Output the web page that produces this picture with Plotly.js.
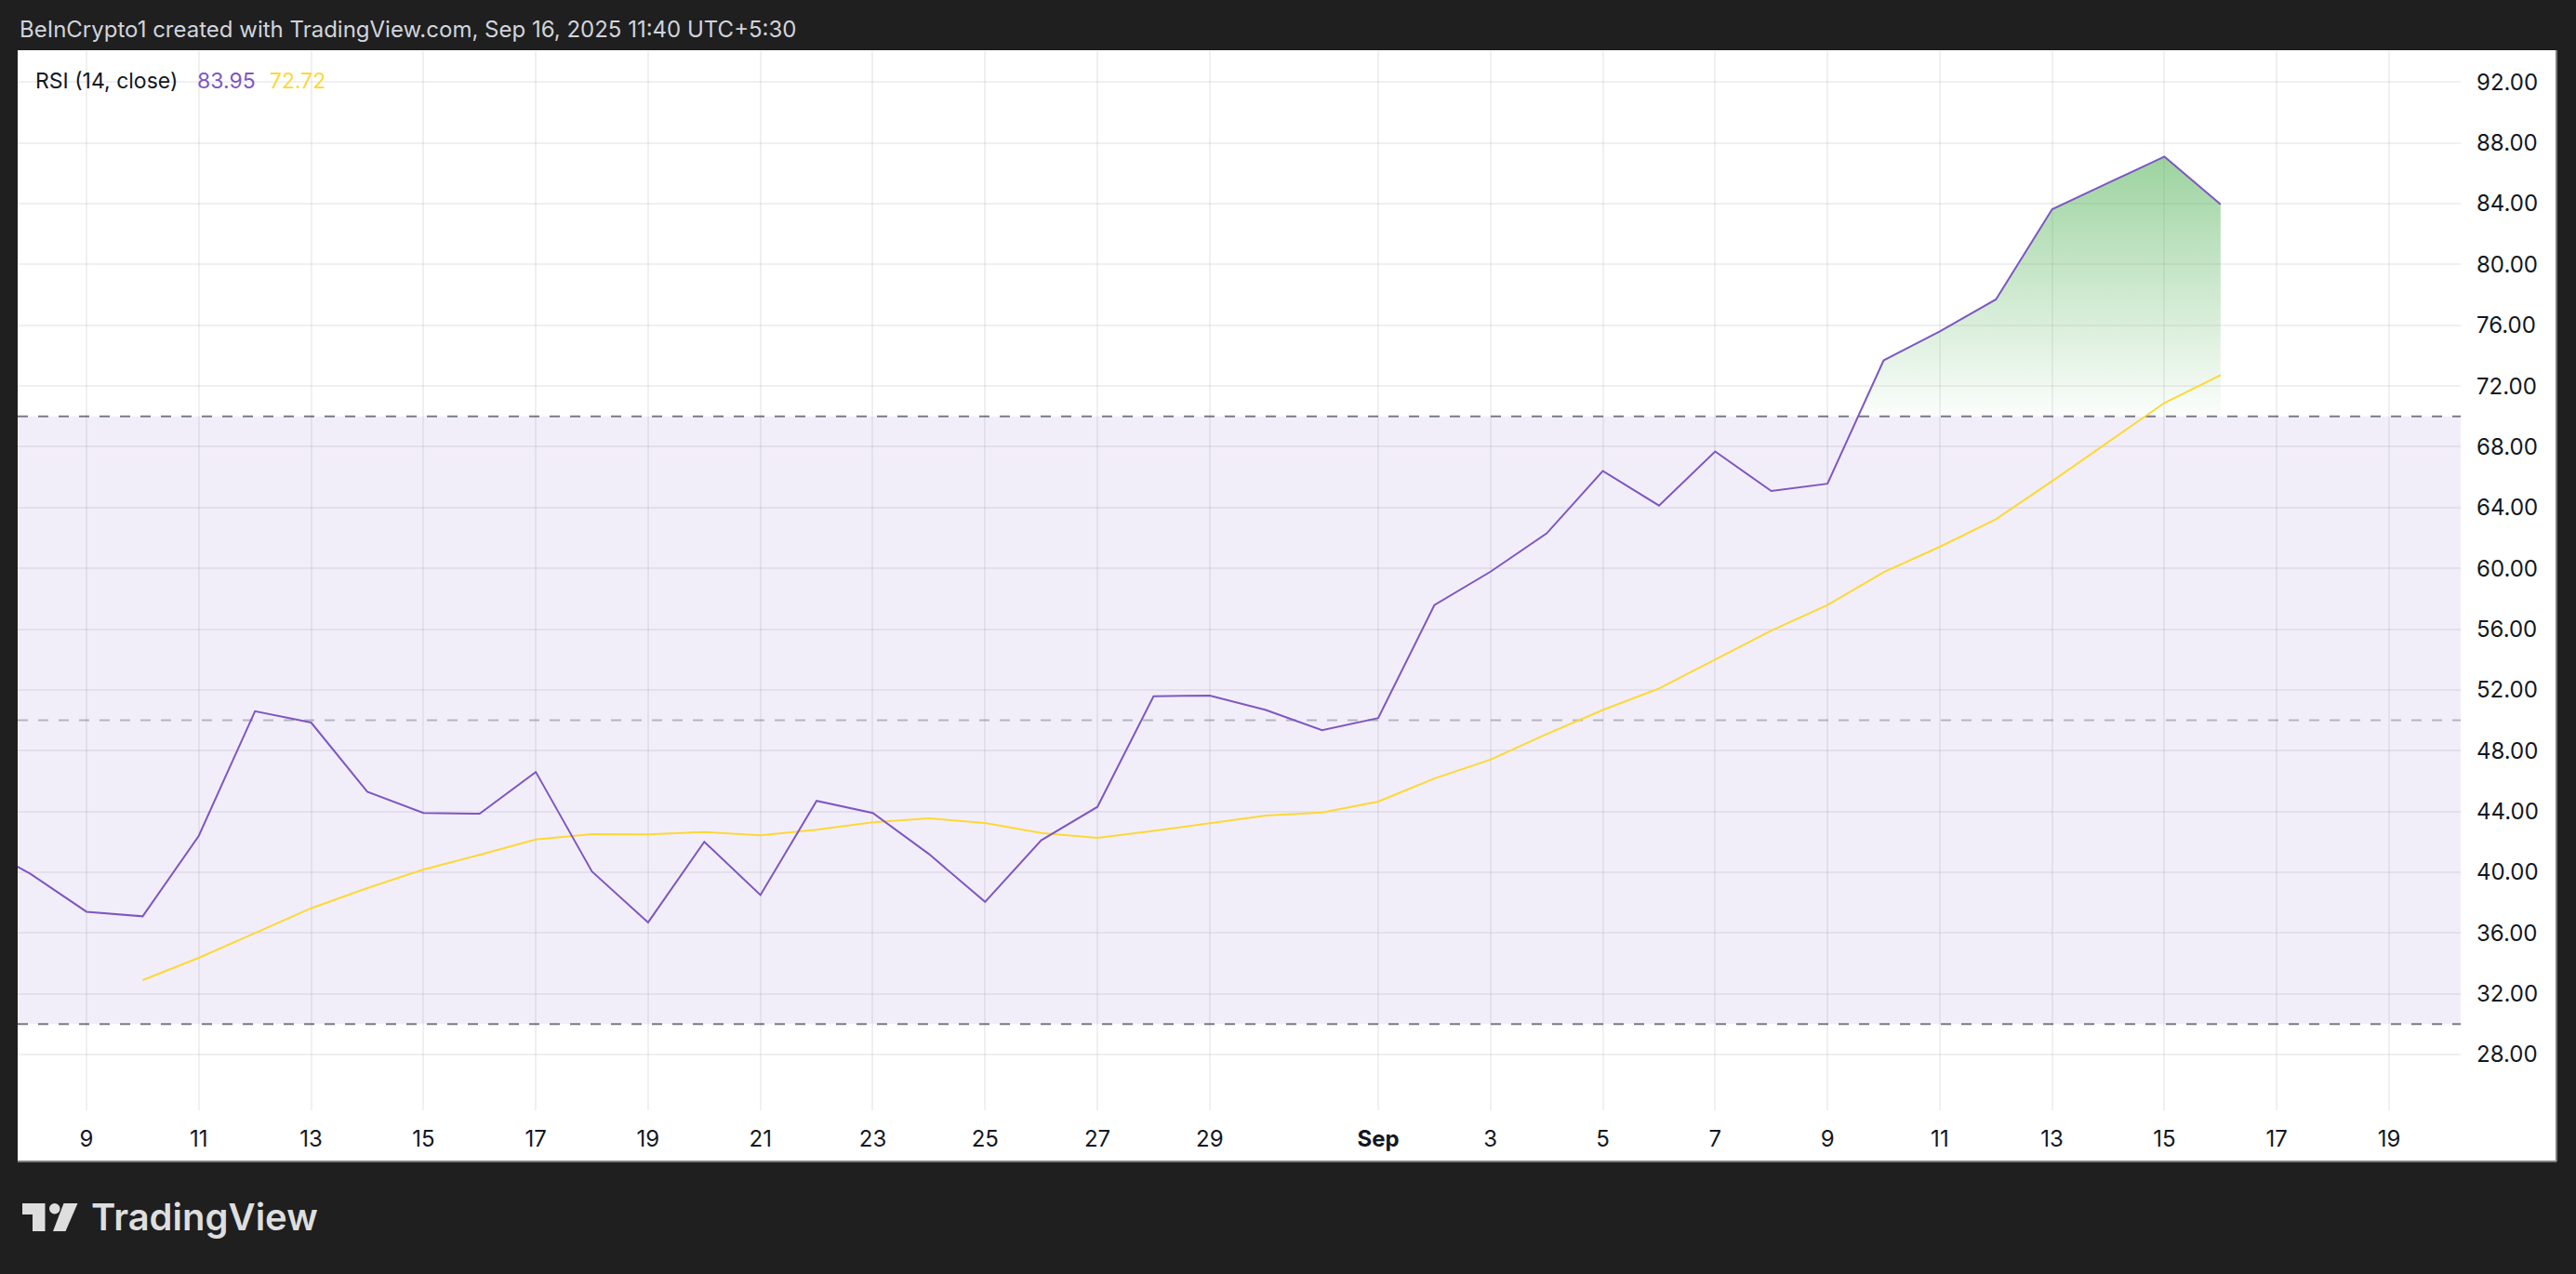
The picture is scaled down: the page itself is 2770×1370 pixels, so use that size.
<!DOCTYPE html>
<html>
<head>
<meta charset="utf-8">
<script src="https://cdn.plot.ly/plotly-3.0.1.min.js"></script>
<style>
html,body{margin:0;padding:0;background:#1f1f1f;overflow:hidden}
#chart{width:2770px;height:1370px}
</style>
</head>
<body>
<div id="chart"></div>
<script>
// ---------- data ----------
const rsiDates = [
 '2025-08-07','2025-08-08','2025-08-09','2025-08-10','2025-08-11','2025-08-12','2025-08-13','2025-08-14',
 '2025-08-15','2025-08-16','2025-08-17','2025-08-18','2025-08-19','2025-08-20','2025-08-21','2025-08-22',
 '2025-08-23','2025-08-24','2025-08-25','2025-08-26','2025-08-27','2025-08-28','2025-08-29','2025-08-30',
 '2025-08-31','2025-09-01','2025-09-02','2025-09-03','2025-09-04','2025-09-05','2025-09-06','2025-09-07',
 '2025-09-08','2025-09-09','2025-09-10','2025-09-11','2025-09-12','2025-09-13','2025-09-14','2025-09-15',
 '2025-09-16'
];
const rsiValues = [
 41.9, 39.9, 37.4, 37.1, 42.4, 50.6, 49.85, 45.3,
 43.9, 43.85, 46.6, 40.05, 36.7, 42.0, 38.5, 44.7,
 43.9, 41.2, 38.05, 42.1, 44.3, 51.58, 51.63, 50.68,
 49.35, 50.15, 57.58, 59.78, 62.3, 66.41, 64.13, 67.69,
 65.09, 65.57, 73.69, 75.6, 77.7, 83.63, 85.37, 87.1,
 83.95
];
const maDates = [
 '2025-08-10','2025-08-11','2025-08-12','2025-08-13','2025-08-14','2025-08-15','2025-08-16','2025-08-17',
 '2025-08-18','2025-08-19','2025-08-20','2025-08-21','2025-08-22','2025-08-23','2025-08-24','2025-08-25',
 '2025-08-26','2025-08-27','2025-08-28','2025-08-29','2025-08-30','2025-08-31','2025-09-01','2025-09-02',
 '2025-09-03','2025-09-04','2025-09-05','2025-09-06','2025-09-07','2025-09-08','2025-09-09','2025-09-10',
 '2025-09-11','2025-09-12','2025-09-13','2025-09-14','2025-09-15','2025-09-16'
];
const maValues = [
 32.9, 34.37, 36.0, 37.63, 38.96, 40.18, 41.14, 42.16,
 42.51, 42.49, 42.65, 42.43, 42.8, 43.29, 43.55, 43.24,
 42.59, 42.26, 42.72, 43.24, 43.73, 43.93, 44.65, 46.17,
 47.41, 49.09, 50.68, 52.09, 54.0, 55.9, 57.58, 59.75,
 61.42, 63.23, 65.74, 68.3, 70.89, 72.72
];
const tickDates = [
 '2025-08-09','2025-08-11','2025-08-13','2025-08-15','2025-08-17','2025-08-19','2025-08-21','2025-08-23',
 '2025-08-25','2025-08-27','2025-08-29','2025-09-01','2025-09-03','2025-09-05','2025-09-07','2025-09-09',
 '2025-09-11','2025-09-13','2025-09-15','2025-09-17','2025-09-19'
];
const tickLabels = [
 '9','11','13','15','17','19','21','23','25','27','29','<b>Sep</b>','3','5','7','9','11','13','15','17','19'
];
const yTickValues = [28,32,36,40,44,48,52,56,60,64,68,72,76,80,84,88,92];
const upperBand = 70, middleBand = 50, lowerBand = 30;
const legendLabel = 'RSI (14, close)';
const headerText = 'BeInCrypto1 created with TradingView.com, Sep 16, 2025 11:40 UTC+5:30';
const brandText = 'TradingView';

// ---------- layout geometry ----------
const W = 2770, H = 1370, L = 19, R = 124, T = 55, B = 176;
const pw = W - L - R, ph = H - T - B;
const px = x => (x - L) / pw;
const py = y => (H - B - y) / ph;

const PURPLE = '#7e57c2', YELLOW = '#fdd835';
const FONT = 'Inter, "Noto Sans", "DejaVu Sans", sans-serif';

// ---------- overbought fill polygon derived from the RSI data ----------
const toMs = d => Date.parse(d + 'T00:00:00Z');
const fmt = ms => new Date(ms).toISOString().replace('T', ' ').replace('Z', '');
const fillX = [], fillY = [];
let startX = null;
for (let i = 0; i < rsiValues.length; i++) {
  const v = rsiValues[i];
  if (i > 0 && rsiValues[i-1] <= upperBand && v > upperBand) {
    const t0 = toMs(rsiDates[i-1]), t1 = toMs(rsiDates[i]);
    const f = (upperBand - rsiValues[i-1]) / (v - rsiValues[i-1]);
    startX = fmt(t0 + f * (t1 - t0));
    fillX.push(startX); fillY.push(upperBand);
  }
  if (v > upperBand && startX !== null) { fillX.push(rsiDates[i]); fillY.push(v); }
}
fillX.push(rsiDates[rsiDates.length-1]); fillY.push(upperBand);
fillX.push(startX); fillY.push(upperBand);
const fillMax = Math.max(...rsiValues);

const traces = [
  {
    type: 'scatter', mode: 'lines', x: fillX, y: fillY,
    fill: 'toself', line: {width: 0, color: 'rgba(0,0,0,0)'},
    fillcolor: 'rgba(76,175,80,0.3)',
    fillgradient: {
      type: 'vertical', start: upperBand, stop: fillMax,
      colorscale: [[0, 'rgba(76,175,80,0.02)'], [1, 'rgba(76,175,80,0.55)']]
    },
    hoverinfo: 'skip'
  },
  {
    type: 'scatter', mode: 'lines', x: maDates, y: maValues,
    line: {color: YELLOW, width: 2}, hoverinfo: 'skip'
  },
  {
    type: 'scatter', mode: 'lines', x: rsiDates, y: rsiValues,
    line: {color: PURPLE, width: 2}, hoverinfo: 'skip'
  }
];

const shapes = [
  {type: 'rect', xref: 'paper', yref: 'paper', x0: px(19), x1: px(2749), y0: py(1249), y1: py(54),
   fillcolor: '#ffffff', line: {width: 0}, layer: 'below'},
  {type: 'line', xref: 'paper', yref: 'paper', x0: px(2749), x1: px(2749), y0: py(1249), y1: py(54),
   line: {color: '#7d7d7d', width: 2}},
  {type: 'line', xref: 'paper', yref: 'paper', x0: px(19), x1: px(2749), y0: py(1249), y1: py(1249),
   line: {color: '#7d7d7d', width: 2}},
  {type: 'rect', xref: 'paper', yref: 'y', x0: 0, x1: 1, y0: lowerBand, y1: upperBand,
   fillcolor: 'rgba(126,87,194,0.1)', line: {width: 0}, layer: 'below'},
  {type: 'line', xref: 'paper', yref: 'y', x0: 0, x1: 1, y0: upperBand, y1: upperBand,
   line: {color: '#787b86', width: 2, dash: '11px,11px'}, layer: 'between'},
  {type: 'line', xref: 'paper', yref: 'y', x0: 0, x1: 1, y0: middleBand, y1: middleBand,
   line: {color: 'rgba(120,123,134,0.5)', width: 2, dash: '11px,11px'}, layer: 'between'},
  {type: 'line', xref: 'paper', yref: 'y', x0: 0, x1: 1, y0: lowerBand, y1: lowerBand,
   line: {color: '#787b86', width: 2, dash: '11px,11px'}, layer: 'between'},
  {type: 'path', xref: 'paper', yref: 'paper',
   path: `M ${px(24)} ${py(1294)} L ${px(48.5)} ${py(1294)} L ${px(48.5)} ${py(1324)} L ${px(35)} ${py(1324)} L ${px(35)} ${py(1306)} L ${px(24)} ${py(1306)} Z`,
   fillcolor: '#dedede', line: {width: 0}},
  {type: 'circle', xref: 'paper', yref: 'paper', x0: px(53), x1: px(64.5), y0: py(1305.5), y1: py(1294),
   fillcolor: '#dedede', line: {width: 0}},
  {type: 'path', xref: 'paper', yref: 'paper',
   path: `M ${px(68.5)} ${py(1294)} L ${px(83.5)} ${py(1294)} L ${px(70.5)} ${py(1324)} L ${px(57)} ${py(1324)} Z`,
   fillcolor: '#dedede', line: {width: 0}}
];

const lastRsi = rsiValues[rsiValues.length-1].toFixed(2);
const lastMa = maValues[maValues.length-1].toFixed(2);

const annotations = [
  {xref: 'paper', yref: 'paper', x: px(19), y: py(32), xanchor: 'left', yanchor: 'middle', showarrow: false,
   text: headerText, font: {family: FONT, size: 24, color: '#d1d4dc'}},
  {xref: 'paper', yref: 'paper', x: px(36), y: py(87), xanchor: 'left', yanchor: 'middle', showarrow: false,
   text: legendLabel, font: {family: FONT, size: 23, color: '#131722'}},
  {xref: 'paper', yref: 'paper', x: px(210), y: py(87), xanchor: 'left', yanchor: 'middle', showarrow: false,
   text: lastRsi, font: {family: FONT, size: 23, color: PURPLE}},
  {xref: 'paper', yref: 'paper', x: px(288), y: py(87), xanchor: 'left', yanchor: 'middle', showarrow: false,
   text: lastMa, font: {family: FONT, size: 23, color: YELLOW}},
  {xref: 'paper', yref: 'paper', x: px(96), y: py(1309), xanchor: 'left', yanchor: 'middle', showarrow: false,
   text: brandText, font: {family: FONT, size: 40, color: '#dedede', weight: 600}}
];

const layout = {
  width: W, height: H,
  margin: {l: L, r: R, t: T, b: B, pad: 0},
  paper_bgcolor: '#1f1f1f', plot_bgcolor: 'rgba(0,0,0,0)',
  showlegend: false, hovermode: false,
  font: {family: FONT, color: '#131722', size: 24},
  xaxis: {
    type: 'date', range: ['2025-08-07 18:35', '2025-09-20 06:36'],
    tickmode: 'array', tickvals: tickDates, ticktext: tickLabels,
    showgrid: true, gridcolor: 'rgba(42,46,57,0.07)', gridwidth: 2,
    zeroline: false, showline: false, ticks: '',
    tickfont: {family: FONT, size: 24, color: '#131722'},
    ticklabelstandoff: 14, fixedrange: true
  },
  yaxis: {
    side: 'right', range: [24.33, 94.04],
    tickmode: 'array', tickvals: yTickValues, ticktext: yTickValues.map(v => v.toFixed(2)),
    showgrid: true, gridcolor: 'rgba(42,46,57,0.07)', gridwidth: 2,
    zeroline: false, showline: false, ticks: '',
    tickfont: {family: FONT, size: 24, color: '#131722'},
    ticklabelstandoff: 16, fixedrange: true
  },
  shapes: shapes,
  annotations: annotations
};

Plotly.newPlot('chart', traces, layout, {staticPlot: true, displayModeBar: false});
</script>
</body>
</html>
